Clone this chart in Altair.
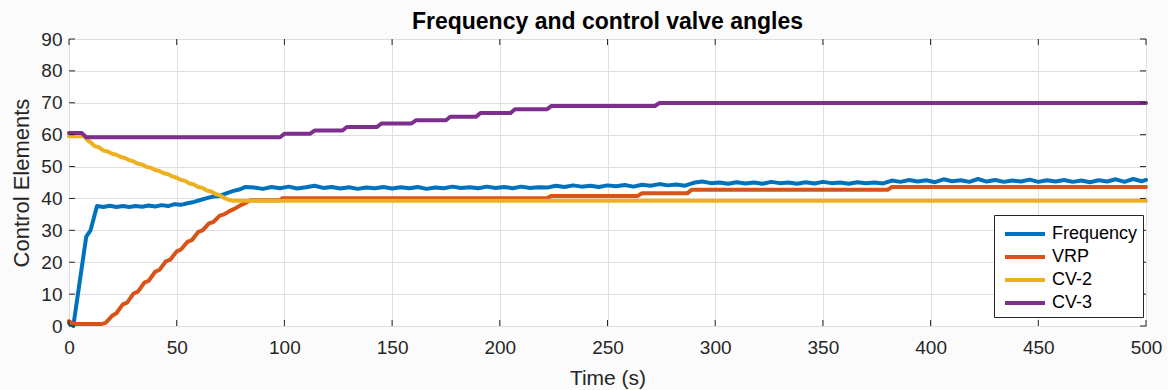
import altair as alt
import pandas as pd

series_names = ["Frequency", "VRP", "CV-2", "CV-3"]
series_colors = ["#0072BD", "#D95319", "#EDB120", "#7E2F8E"]

freq_t = [0, 2, 5, 8, 10, 13, 16, 19, 22, 25, 28, 31, 34, 37, 40, 43, 46, 49, 52, 55, 58,
          61, 64, 67, 70, 73, 76, 79, 82, 86, 90, 94, 98, 102, 106, 110, 114, 118, 122,
          126, 130, 134, 138, 142, 146, 150, 154, 158, 162, 166, 170, 174, 178, 182, 186,
          190, 194, 198, 202, 206, 210, 214, 218, 222, 226, 230, 234, 238, 242, 246, 250,
          254, 258, 262, 266, 270, 274, 278, 282, 286, 290, 294, 298, 302, 306, 310, 314,
          318, 322, 326, 330, 334, 338, 342, 346, 350, 354, 358, 362, 366, 370, 374, 378,
          382, 386, 390, 394, 398, 402, 406, 410, 414, 418, 422, 426, 430, 434, 438, 442,
          446, 450, 454, 458, 462, 466, 470, 474, 478, 482, 486, 490, 494, 498, 500]
freq_v = [1.0, 0.0, 14.0, 28.0, 30.0, 37.6, 37.3, 37.7, 37.3, 37.6, 37.3, 37.6, 37.4, 37.8,
          37.5, 37.9, 37.6, 38.2, 38.0, 38.5, 38.9, 39.5, 40.1, 40.6, 40.8, 41.6, 42.3, 42.8,
          43.6, 43.4, 43.0, 43.6, 43.2, 43.7, 43.1, 43.5, 44.0, 43.3, 43.6, 43.1, 43.5, 43.0,
          43.4, 43.2, 43.6, 43.1, 43.5, 43.2, 43.6, 43.0, 43.4, 43.2, 43.7, 43.3, 43.5, 43.2,
          43.7, 43.3, 43.6, 43.2, 43.7, 43.3, 43.5, 43.4, 44.0, 43.6, 44.1, 43.7, 44.0, 43.6,
          44.1, 43.8, 44.2, 43.7, 44.3, 44.0, 44.5, 44.1, 44.4, 44.0, 44.9, 45.3, 44.8, 45.0,
          44.6, 45.1, 44.7, 45.0, 44.6, 45.2, 44.8, 45.0, 44.6, 45.1, 44.7, 45.2, 44.8, 45.0,
          44.6, 45.1, 44.8, 45.0, 44.7, 45.6, 45.2, 45.8, 45.3, 45.7, 45.1, 46.0, 45.4, 45.7,
          45.2, 46.1, 45.3, 45.8, 45.2, 45.6, 45.3, 45.9, 45.2, 45.7, 45.3, 45.8, 45.2, 45.6,
          45.1, 45.7, 45.3, 46.0, 45.2, 46.1, 45.4, 45.8]

vrp_t = [0, 2, 15, 17, 20, 22, 25, 27, 30, 32, 35, 37, 40, 42, 45, 47, 50, 52, 55, 57, 60,
         62, 65, 67, 70, 72, 75, 77, 80, 82, 84, 98, 99, 222, 224, 264, 266, 287, 289, 380,
         382, 500]
vrp_v = [1.5, 0.6, 0.6, 1.0, 3.2, 4.0, 6.8, 7.3, 10.2, 10.8, 13.6, 14.2, 17.0, 17.6, 20.3,
         20.8, 23.4, 24.0, 26.4, 26.9, 29.5, 30.0, 32.2, 32.6, 34.6, 35.0, 36.2, 36.8, 38.0,
         38.6, 39.4, 39.4, 40.1, 40.1, 40.8, 40.8, 41.6, 41.6, 42.7, 42.7, 43.6, 43.6]

cv2_t = [0, 7, 9, 10, 12, 14, 16, 18, 20, 22, 24, 26, 28, 30, 32, 34, 36, 38, 40, 42, 44,
         46, 48, 50, 52, 54, 56, 58, 60, 62, 64, 66, 68, 70, 72, 74, 76, 500]
cv2_v = [59.5, 59.5, 58.0, 57.6, 56.4, 56.0, 55.0, 54.7, 54.0, 53.7, 53.0, 52.7, 52.0, 51.6,
         50.9, 50.6, 49.9, 49.6, 48.9, 48.6, 47.9, 47.6, 46.9, 46.5, 45.8, 45.5, 44.7, 44.4,
         43.6, 43.3, 42.5, 42.2, 41.4, 41.0, 40.2, 39.6, 39.3, 39.3]

cv3_t = [0, 6, 8, 98, 100, 112, 114, 127, 129, 143, 145, 159, 161, 175, 177, 189, 191, 205,
         207, 222, 224, 272, 274, 500]
cv3_v = [60.5, 60.5, 59.2, 59.2, 60.3, 60.3, 61.3, 61.3, 62.4, 62.4, 63.5, 63.5, 64.5, 64.5,
         65.6, 65.6, 66.8, 66.8, 68.0, 68.0, 69.0, 69.0, 69.9, 69.9]

x_ticks = [0, 50, 100, 150, 200, 250, 300, 350, 400, 450, 500]
y_ticks = [0, 10, 20, 30, 40, 50, 60, 70, 80, 90]

rows = []
for name, ts, vs in [("Frequency", freq_t, freq_v), ("VRP", vrp_t, vrp_v),
                     ("CV-2", cv2_t, cv2_v), ("CV-3", cv3_t, cv3_v)]:
    for t, v in zip(ts, vs):
        rows.append({"series": name, "t": t, "v": v})
df = pd.DataFrame(rows)

W, H = 1077, 287
FONT = "Liberation Sans"
INK = "#262626"

xscale = alt.Scale(domain=[0, 500], nice=False, zero=False)
yscale = alt.Scale(domain=[0, 90], nice=False)

xaxis = alt.Axis(values=x_ticks, title="Time (s)", grid=True, domain=False, ticks=False,
                 labelOverlap=False, labelFlush=False,
                 labelFont=FONT, labelFontSize=19, labelColor=INK, labelPadding=12,
                 titleFont=FONT, titleFontSize=21, titleFontWeight="normal", titleColor=INK,
                 titlePadding=10, gridColor="#DFDFDF", gridWidth=1)
yaxis = alt.Axis(values=y_ticks, title="Control Elements", grid=True, domain=False, ticks=False,
                 labelOverlap=False, labelFlush=False,
                 labelFont=FONT, labelFontSize=19, labelColor=INK, labelPadding=7,
                 titleFont=FONT, titleFontSize=22, titleFontWeight="normal", titleColor=INK,
                 titlePadding=7, gridColor="#DFDFDF", gridWidth=1)

lines = alt.Chart(df).mark_line(strokeWidth=4, strokeJoin="round", strokeCap="round").encode(
    x=alt.X("t:Q", scale=xscale, axis=xaxis),
    y=alt.Y("v:Q", scale=yscale, axis=yaxis),
    color=alt.Color("series:N", sort=series_names,
                    scale=alt.Scale(domain=series_names, range=series_colors),
                    legend=alt.Legend(title=None, orient="none", legendX=925, legendY=176,
                                      strokeColor=INK, fillColor="white", padding=5,
                                      symbolType="M-0.667,0H2.667", symbolStrokeWidth=4,
                                      symbolSize=576, labelFont=FONT, labelFontSize=18,
                                      labelColor="black", labelOffset=25, rowPadding=0)),
)

xt = pd.DataFrame({"t": x_ticks})
yt = pd.DataFrame({"v": y_ticks})
tick_style = dict(color=INK, strokeWidth=1)
bottom_ticks = alt.Chart(xt).mark_rule(**tick_style).encode(
    x=alt.X("t:Q", scale=xscale, axis=xaxis), y=alt.value(H), y2=alt.value(H - 6))
top_ticks = alt.Chart(xt).mark_rule(**tick_style).encode(
    x=alt.X("t:Q", scale=xscale, axis=xaxis), y=alt.value(0), y2=alt.value(6))
left_ticks = alt.Chart(yt).mark_rule(**tick_style).encode(
    y=alt.Y("v:Q", scale=yscale, axis=yaxis), x=alt.value(0), x2=alt.value(6))
right_ticks = alt.Chart(yt).mark_rule(**tick_style).encode(
    y=alt.Y("v:Q", scale=yscale, axis=yaxis), x=alt.value(W), x2=alt.value(W - 6))

chart = alt.layer(lines, bottom_ticks, top_ticks, left_ticks, right_ticks).properties(
    width=W, height=H,
    title=alt.TitleParams("Frequency and control valve angles", font=FONT, fontSize=23,
                          fontWeight="bold", color="black", anchor="middle", offset=-4),
    autosize=alt.AutoSizeParams(type="none"),
    padding={"left": 69, "top": 39, "right": 22, "bottom": 64},
    background="#FBFBFB",
).configure_view(stroke=INK, strokeWidth=1, fill="white")

chart.save("out.html", embed_options={"renderer": "svg", "actions": False})
